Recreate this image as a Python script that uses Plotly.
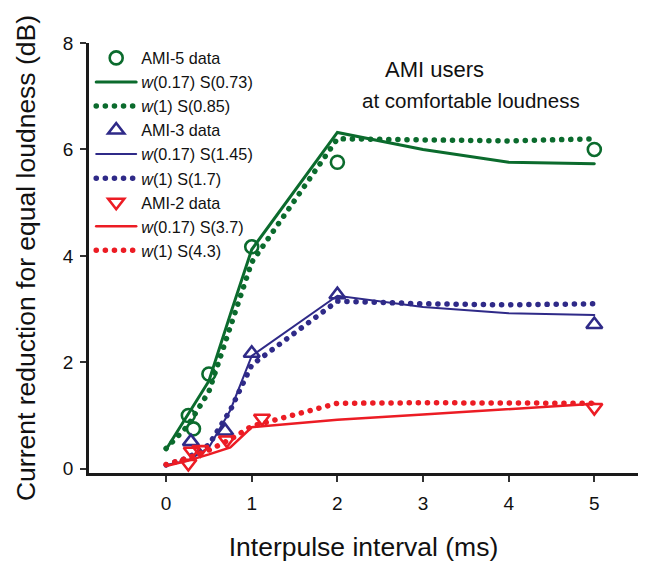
import plotly.graph_objects as go

# ---- data ----
model_x = [0, 0.25, 0.5, 0.75, 1, 2, 3, 4, 5]

ami5_x = [0.26, 0.32, 0.5, 1.0, 2.0, 5.0]
ami5_y = [1.0, 0.75, 1.78, 4.17, 5.76, 6.0]
ami5_fit_a = [0.36, 1.0, 1.65, 2.9, 4.12, 6.32, 6.0, 5.76, 5.73]     # w(0.17) S(0.73)
ami5_fit_b = [0.38, 0.8, 1.45, 2.67, 3.88, 6.2, 6.18, 6.16, 6.2]     # w(1) S(0.85)

ami3_x = [0.29, 0.69, 1.0, 2.0, 5.0]
ami3_y = [0.51, 0.71, 2.17, 3.27, 2.71]
ami3_fit_a = [0.07, 0.15, 0.4, 1.1, 2.12, 3.25, 3.04, 2.92, 2.89]    # w(0.17) S(1.45)
ami3_fit_b = [0.07, 0.2, 0.45, 1.1, 1.95, 3.15, 3.1, 3.08, 3.1]      # w(1) S(1.7)

ami2_x = [0.26, 0.3, 0.4, 0.71, 1.12, 5.0]
ami2_y = [0.1, 0.33, 0.36, 0.54, 0.95, 1.15]
ami2_fit_a = [0.05, 0.15, 0.27, 0.4, 0.78, 0.92, 1.02, 1.12, 1.22]   # w(0.17) S(3.7)
ami2_fit_b = [0.08, 0.2, 0.35, 0.55, 0.8, 1.23, 1.24, 1.24, 1.23]    # w(1) S(4.3)

x_ticks = [0, 1, 2, 3, 4, 5]
y_ticks = [0, 2, 4, 6, 8]

GREEN = "#0b6b2d"
BLUE = "#2f2a88"
RED = "#ec1c24"
FONT = "Liberation Sans, Arial, sans-serif"
DOT = "0.1px,9px"

fig = go.Figure()

def data_trace(x, y, name, color, symbol, size):
    return go.Scatter(x=x, y=y, mode="markers", name=name,
                      marker=dict(symbol=symbol, size=size, color=color,
                                  line=dict(color=color, width=2.6)))

def fit_trace(y, name, color, width, dash):
    return go.Scatter(x=model_x, y=y, mode="lines", name=name,
                      line=dict(color=color, width=width, dash=dash))

fig.add_trace(data_trace(ami5_x, ami5_y, "AMI-5 data", GREEN, "circle-open", 13))
fig.add_trace(fit_trace(ami5_fit_a, "<i>w</i>(0.17) S(0.73)", GREEN, 3, "solid"))
fig.add_trace(fit_trace(ami5_fit_b, "<i>w</i>(1) S(0.85)", GREEN, 5.5, DOT))
fig.add_trace(data_trace(ami3_x, ami3_y, "AMI-3 data", BLUE, "triangle-up-open", 14))
fig.add_trace(fit_trace(ami3_fit_a, "<i>w</i>(0.17) S(1.45)", BLUE, 2, "solid"))
fig.add_trace(fit_trace(ami3_fit_b, "<i>w</i>(1) S(1.7)", BLUE, 5.5, DOT))
fig.add_trace(data_trace(ami2_x, ami2_y, "AMI-2 data", RED, "triangle-down-open", 14))
fig.add_trace(fit_trace(ami2_fit_a, "<i>w</i>(0.17) S(3.7)", RED, 2.5, "solid"))
fig.add_trace(fit_trace(ami2_fit_b, "<i>w</i>(1) S(4.3)", RED, 5.5, DOT))

pw, ph = 645 - 89 - 7, 562 - 43 - 89

def px_x(p):
    return (p - 89) / pw

def px_y(p):
    return 1 - (p - 43) / ph

fig.update_layout(
    width=645, height=562,
    margin=dict(l=89, r=7, t=43, b=89),
    paper_bgcolor="white", plot_bgcolor="white",
    font=dict(family=FONT, color="#111"),
    showlegend=True,
    legend=dict(x=0.004, y=1.005, xanchor="left", yanchor="top",
                bgcolor="rgba(0,0,0,0)", font=dict(size=16.2, family=FONT, color="#111"),
                traceorder="normal", itemwidth=40),
    annotations=[
        dict(text="AMI users", x=px_x(434), y=px_y(70), xref="paper", yref="paper",
             xanchor="center", yanchor="middle", showarrow=False,
             font=dict(size=22, family=FONT, color="#111")),
        dict(text="at comfortable loudness", x=px_x(471), y=px_y(100), xref="paper", yref="paper",
             xanchor="center", yanchor="middle", showarrow=False,
             font=dict(size=20.5, family=FONT, color="#111")),
    ],
)

fig.update_xaxes(range=[-0.9, 5.51], tickvals=x_ticks, ticks="outside", ticklen=6,
                 tickwidth=1.5, tickcolor="#333", showline=True, linewidth=2.6,
                 linecolor="#1a1a1a", showgrid=False, zeroline=False, automargin=False,
                 tickfont=dict(size=19, family=FONT, color="#111"),
                 ticklabelstandoff=5,
                 title=dict(text="Interpulse interval (ms)", standoff=27,
                            font=dict(size=26.5, family=FONT, color="#111")))
fig.update_yaxes(range=[-0.08, 8], tickvals=y_ticks, ticks="outside", ticklen=6,
                 tickwidth=1.5, tickcolor="#333", showline=True, linewidth=2.6,
                 linecolor="#1a1a1a", showgrid=False, zeroline=False, automargin=False,
                 tickfont=dict(size=19, family=FONT, color="#111"),
                 ticklabelstandoff=3,
                 title=dict(text="Current reduction for equal loudness (dB)", standoff=20,
                            font=dict(size=26.5, family=FONT, color="#111")))

post = """
document.body.style.margin = '0';
document.body.style.padding = '0';
var gd = document.getElementById('{plot_id}');
function roundify(){
  document.querySelectorAll('path.js-line').forEach(function(p){ p.style.strokeLinecap = 'round'; });
}
roundify();
gd.on('plotly_afterplot', roundify);
"""

fig.write_html("out.html", post_script=post, config={"displayModeBar": False})
